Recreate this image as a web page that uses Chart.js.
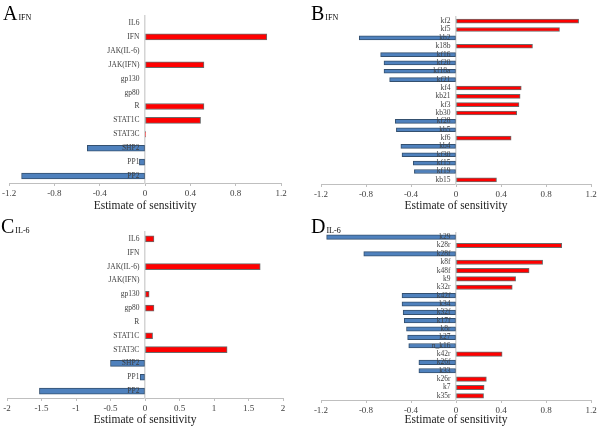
<!DOCTYPE html>
<html>
<head>
<meta charset="utf-8">
<script src="https://cdn.jsdelivr.net/npm/chart.js@4"></script>
<style>
    body { margin: 0; background: #fff; width: 600px; height: 429px; position: relative; overflow: hidden; }
    .panel { position: absolute; }
    .tag { position: absolute; font-family: 'Liberation Serif', serif; color: #000; white-space: nowrap; }
    .tag b { font-weight: normal; font-size: 20px; }
    .tag span { font-size: 8px; margin-left: 1px; }
</style>
</head>
<body>
<div class="panel" style="left:0;top:0"><canvas id="chartA" width="300" height="215"></canvas></div>
<div class="panel" style="left:300px;top:0"><canvas id="chartB" width="300" height="215"></canvas></div>
<div class="panel" style="left:0;top:215px"><canvas id="chartC" width="300" height="214"></canvas></div>
<div class="panel" style="left:300px;top:215px"><canvas id="chartD" width="300" height="214"></canvas></div>

<div class="tag" style="left:3px;top:2px"><b>A</b><span>IFN</span></div>
<div class="tag" style="left:311px;top:2px"><b>B</b><span>IFN</span></div>
<div class="tag" style="left:1px;top:215px"><b>C</b><span>IL-6</span></div>
<div class="tag" style="left:311px;top:215px"><b>D</b><span>IL-6</span></div>

<script>
// Panel A / C categories (species)
const speciesLabels = ['IL6', 'IFN', 'JAK(IL-6)', 'JAK(IFN)', 'gp130', 'gp80', 'R', 'STAT1C', 'STAT3C', 'SHP2', 'PP1', 'PP2'];
const valuesA = [0, 1.075, 0, 0.52, 0, 0, 0.52, 0.49, 0.005, -0.51, -0.05, -1.09];
const valuesC = [0.13, 0, 1.67, 0, 0.06, 0.13, 0, 0.11, 1.19, -0.50, -0.07, -1.53];

// Panel B parameters (IFN)
const labelsB = ['kf2', 'kf5', 'kb2', 'k18b', 'kf16', 'kf20', 'kf18a', 'kf21', 'kf4', 'kb21', 'kf3', 'kb30', 'kf28', 'kb5', 'kf6', 'kb4', 'kf30', 'kf15', 'kf19', 'kb15'];
const valuesB = [1.09, 0.92, -0.86, 0.68, -0.67, -0.64, -0.64, -0.59, 0.58, 0.57, 0.56, 0.54, -0.54, -0.53, 0.49, -0.49, -0.48, -0.38, -0.37, 0.36];

// Panel D parameters (IL-6)
const labelsD = ['k29', 'k28r', 'k28f', 'k8f', 'k48f', 'k9', 'k32r', 'k42f', 'k34', 'k32f', 'k17f', 'k8r', 'k27', 'n_k16', 'k42r', 'k26f', 'k33', 'k26r', 'k7', 'k35r'];
const valuesD = [-1.15, 0.94, -0.82, 0.77, 0.65, 0.53, 0.50, -0.48, -0.48, -0.47, -0.46, -0.44, -0.43, -0.42, 0.41, -0.33, -0.33, 0.27, 0.25, 0.245];

// x axis ticks
const ticksSmall = [-1.2, -0.8, -0.4, 0, 0.4, 0.8, 1.2];
const ticksWide = [-2, -1.5, -1, -0.5, 0, 0.5, 1, 1.5, 2];

const FONT = "'Liberation Serif', 'Times New Roman', serif";
const RED = '#ff0000';
const BLUE = '#4f81bd';

function makeChart(id, labels, values, xTicks, opts) {
    const ctx = document.getElementById(id).getContext('2d');
    return new Chart(ctx, {
        type: 'bar',
        data: {
            labels: labels,
            datasets: [{
                data: values,
                backgroundColor: c => (c.raw >= 0 ? RED : BLUE),
                borderColor: c => (c.raw >= 0 ? '#6b6b6b' : '#34506f'),
                borderWidth: 1,
                borderSkipped: false,
                barThickness: opts.bar
            }]
        },
        options: {
            indexAxis: 'y',
            responsive: false,
            animation: false,
            layout: { padding: opts.padding },
            plugins: {
                legend: { display: false },
                tooltip: { enabled: false }
            },
            scales: {
                x: {
                    type: 'linear',
                    min: xTicks[0],
                    max: xTicks[xTicks.length - 1],
                    afterBuildTicks: s => { s.ticks = xTicks.map(v => ({ value: v })); },
                    afterFit: s => { s.height = opts.axisH; },
                    grid: { display: true, drawOnChartArea: false, drawTicks: true, tickLength: 3, color: '#bfbfbf' },
                    border: { display: true, color: '#bfbfbf', width: 1 },
                    ticks: {
                        color: '#404040',
                        padding: 2,
                        maxRotation: 0,
                        font: { family: FONT, size: 9 },
                        callback: v => String(v)
                    },
                    title: {
                        display: true,
                        text: 'Estimate of sensitivity',
                        color: '#222',
                        padding: { top: 0, bottom: 2 },
                        font: { family: FONT, size: 11.5 }
                    }
                },
                y: {
                    position: { x: 0 },
                    grid: { display: false, drawTicks: false },
                    border: { display: true, color: '#d4d4d4', width: 1.5 },
                    ticks: {
                        z: 1,
                        color: '#404040',
                        padding: 5,
                        autoSkip: false,
                        font: { family: FONT, size: 7.5 },
                        // small gap between label and the zero line
                        callback: function (v) { return this.getLabelForValue(v) + '   '; }
                    }
                }
            }
        }
    });
}

makeChart('chartA', speciesLabels, valuesA, ticksSmall, { padding: { left: 8, right: 19, top: 16, bottom: 0 }, axisH: 32, bar: 6 });
makeChart('chartB', labelsB, valuesB, ticksSmall, { padding: { left: 21, right: 9, top: 17, bottom: 0 }, axisH: 31, bar: 4 });
makeChart('chartC', speciesLabels, valuesC, ticksWide, { padding: { left: 7, right: 17, top: 17, bottom: 0 }, axisH: 31, bar: 6 });
makeChart('chartD', labelsD, valuesD, ticksSmall, { padding: { left: 21, right: 9, top: 18, bottom: 0 }, axisH: 29, bar: 4.5 });
</script>
</body>
</html>
